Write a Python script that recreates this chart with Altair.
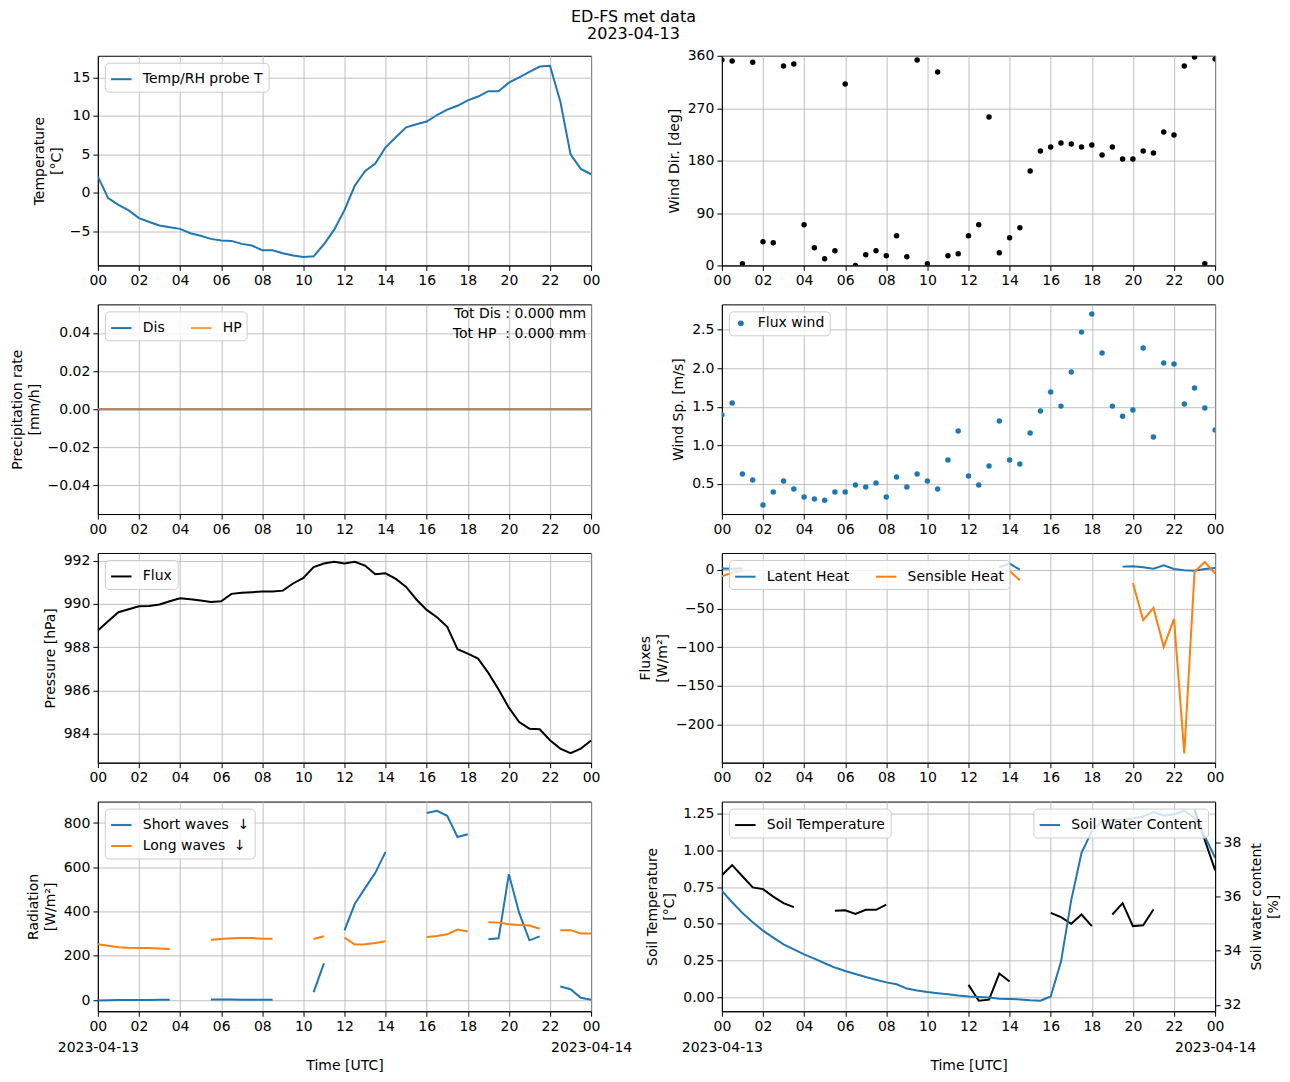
import altair as alt
import pandas as pd

# ---------------- data ----------------
HOURS = [0, 0.5, 1, 1.5, 2, 2.5, 3, 3.5, 4, 4.5, 5, 5.5, 6, 6.5, 7, 7.5, 8, 8.5,
         9, 9.5, 10, 10.5, 11, 11.5, 12, 12.5, 13, 13.5, 14, 14.5, 15, 15.5, 16,
         16.5, 17, 17.5, 18, 18.5, 19, 19.5, 20, 20.5, 21, 21.5, 22, 22.5, 23,
         23.5, 24]
TICK_HOURS = [0, 2, 4, 6, 8, 10, 12, 14, 16, 18, 20, 22, 24]
TICK_LABELS = ["00", "02", "04", "06", "08", "10", "12", "14", "16", "18", "20", "22", "00"]
DATE_LABELS = ["2023-04-13", "2023-04-14"]

TEMP = [2.1, -0.7, -1.57, -2.3, -3.3, -3.8, -4.26, -4.48, -4.7, -5.26, -5.6, -6.0,
        -6.2, -6.26, -6.65, -6.87, -7.48, -7.48, -7.87, -8.17, -8.35, -8.26, -6.7,
        -4.8, -2.27, 0.9, 2.8, 3.8, 5.9, 7.2, 8.5, 8.9, 9.25, 10.1, 10.8, 11.3, 12.0,
        12.5, 13.2, 13.2, 14.3, 15.0, 15.7, 16.4, 16.5, 11.9, 5.0, 3.1, 2.4]

WIND_DIR = [352.6, 350.9, 2.9, 349, 40.6, 38.9, 342.3, 345.7, 69.7, 30.3, 11.4, 25.1,
            311.4, 0, 18.3, 25.1, 16.6, 50.9, 14.9, 352.6, 2.9, 332, 16.6, 20, 50.9,
            69.7, 254.8, 21.7, 47.4, 64.6, 162.3, 196.6, 203.4, 210.3, 208.6, 203.4,
            206.9, 189.7, 203.4, 182.9, 182.9, 196.6, 193.1, 229.1, 224, 342.3, 357.7,
            2.9, 354.3]

DIS = [0.0, 0.0, 0.0, 0.0, 0.0, 0.0, 0.0, 0.0, 0.0, 0.0, 0.0, 0.0, 0.0, 0.0, 0.0, 0.0,
       0.0, 0.0, 0.0, 0.0, 0.0, 0.0, 0.0, 0.0, 0.0, 0.0, 0.0, 0.0, 0.0, 0.0, 0.0, 0.0,
       0.0, 0.0, 0.0, 0.0, 0.0, 0.0, 0.0, 0.0, 0.0, 0.0, 0.0, 0.0, 0.0, 0.0, 0.0, 0.0, 0.0]
HP = [0.0, 0.0, 0.0, 0.0, 0.0, 0.0, 0.0, 0.0, 0.0, 0.0, 0.0, 0.0, 0.0, 0.0, 0.0, 0.0,
      0.0, 0.0, 0.0, 0.0, 0.0, 0.0, 0.0, 0.0, 0.0, 0.0, 0.0, 0.0, 0.0, 0.0, 0.0, 0.0,
      0.0, 0.0, 0.0, 0.0, 0.0, 0.0, 0.0, 0.0, 0.0, 0.0, 0.0, 0.0, 0.0, 0.0, 0.0, 0.0, 0.0]
TOT_NAMES = ["Tot Dis\u00a0", "Tot HP\u00a0\u00a0"]
TOT_VALUES = [0.0, 0.0]

WIND_SP = [1.395, 1.55, 0.63, 0.552, 0.228, 0.396, 0.539, 0.435, 0.33, 0.305, 0.29,
           0.396, 0.396, 0.487, 0.46, 0.513, 0.33, 0.59, 0.46, 0.63, 0.539, 0.435, 0.81,
           1.187, 0.604, 0.487, 0.733, 1.317, 0.81, 0.76, 1.16, 1.447, 1.693, 1.51,
           1.953, 2.47, 2.705, 2.2, 1.51, 1.38, 1.46, 2.264, 1.11, 2.07, 2.056, 1.537,
           1.745, 1.486, 1.2]

PRESSURE = [988.77, 989.2, 989.61, 989.75, 989.89, 989.9, 989.97, 990.12, 990.26,
            990.21, 990.15, 990.09, 990.12, 990.46, 990.51, 990.54, 990.57, 990.57,
            990.61, 990.94, 991.2, 991.7, 991.86, 991.94, 991.86, 991.94, 991.77,
            991.37, 991.41, 991.15, 990.78, 990.2, 989.72, 989.38, 988.94, 987.9,
            987.7, 987.47, 986.81, 986.04, 985.2, 984.54, 984.23, 984.2, 983.7,
            983.31, 983.1, 983.31, 983.68]

LATENT = [1.5, 1.3, 1.5, None, None, None, None, None, None, None, None, None,
          None, None, None, None, None, None, None, None, None, None, None, None,
          None, None, None, 3.4, 7.7, 0.0, None, None, None, None, None, None,
          None, None, None, 3.9, 4.3, 3.0, 1.3, 5.6, 0.86, -0.86, -1.3, 0.86, 2.1]
SENSIBLE = [-8.6, -4.0, -1.0, None, None, None, None, None, None, None, None, None,
            None, None, None, None, None, None, None, None, None, None, None, None,
            None, None, None, None, -1.9, -13.7, None, None, None, None, None, None,
            None, None, None, None, -17.2, -65.3, -49.4, -99.6, -63.6, -237.0, -2.6,
            9.9, -5.2]

SHORT = [-2, -1, 0, 0, 0, 0.5, 1, 1, None, None, None, 3, 2, 2, 1, 1, 1, 1,
         None, None, None, 36, 166, None, 315, 434, 506, 575, 670, None, None, None,
         845, 855, 833, 737, 749, None, 275, 279, 569, 394, 270, 288, None, 61, 49,
         10, 1.5]
LONG = [252, 245, 239, 236, 235, 235, 233, 231, None, None, None, 273, 276, 279,
        280, 280, 277, 277, None, None, None, 276, 288, None, 282, 251, 252, 258,
        266, None, None, None, 285, 290, 297, 319, 310, None, 352, 350, 343, 339,
        337, 322, None, 316, 316, 301, 301]

SOIL_T = [0.831, 0.90, 0.824, 0.748, 0.736, 0.685, 0.64, 0.613, None, None, None,
          0.588, 0.592, 0.567, 0.595, 0.595, 0.63, None, None, None, None, None,
          None, None, 0.083, -0.025, -0.018, 0.16, 0.106, None, None, None, 0.574,
          0.545, 0.5, 0.563, 0.484, None, 0.563, 0.64, 0.484, 0.49, 0.597, None,
          None, None, 1.277, 1.07, 0.865]
SWC = [36.22, 35.8, 35.4, 35.06, 34.75, 34.49, 34.24, 34.05, 33.87, 33.71, 33.54,
       33.38, 33.25, 33.14, 33.03, 32.93, 32.83, 32.76, 32.6, 32.53, 32.47, 32.43,
       32.39, 32.34, 32.31, 32.29, 32.27, 32.22, 32.21, 32.2, 32.17, 32.15, 32.31,
       33.59, 35.88, 37.63, 38.43, 38.8, 38.85, 38.86, 38.9, 38.98, 39.14, 39.01,
       39.06, 39.19, 38.92, 38.24, 37.45]

BLUE = "#1f77b4"
ORANGE = "#ff7f0e"
FONT = "DejaVu Sans"
W, H = 494, 210


def long_df(series):
    rows = []
    for name, vals in series:
        seg, gap = 0, True
        for t, v in zip(HOURS, vals):
            if v is None:
                gap = True
                continue
            if gap:
                seg += 1
                gap = False
            rows.append({"t": t, "v": v, "series": name, "seg": f"{name}-{seg}"})
    return pd.DataFrame(rows)


def x_enc(bottom):
    mapping = "{" + ",".join(f"'{h}':'{l}'" for h, l in zip(TICK_HOURS, TICK_LABELS)) + "}"
    if bottom:
        expr = (f"datum.value == {TICK_HOURS[0]} ? ['{TICK_LABELS[0]}','{DATE_LABELS[0]}'] : "
                f"datum.value == {TICK_HOURS[-1]} ? ['{TICK_LABELS[-1]}','{DATE_LABELS[1]}'] : "
                f"{mapping}[datum.value]")
    else:
        expr = f"{mapping}[datum.value]"
    return alt.X("t:Q", scale=alt.Scale(domain=[0, 24], nice=False, zero=False),
                 axis=alt.Axis(values=TICK_HOURS, labelExpr=expr,
                               title="Time [UTC]" if bottom else None,
                               labelFlush=False, labelOverlap=False, labelBound=False,
                               titlePadding=4, labelLineHeight=21))


def y_enc(domain, values, fmt, title, orient="left", grid=True):
    return alt.Y("v:Q", scale=alt.Scale(domain=domain, nice=False, zero=False),
                 axis=alt.Axis(values=values, format=fmt, title=title, orient=orient,
                               grid=grid, labelOverlap=False, labelFlush=False,
                               titleAngle=270, titleLineHeight=17))


def legend(orient="top-left", columns=1, symbol="stroke"):
    return alt.Legend(title=None, orient=orient, columns=columns, offset=7,
                      fillColor="rgba(255,255,255,0.8)", strokeColor="#cccccc",
                      cornerRadius=4, padding=5, labelFont=FONT, labelFontSize=14,
                      labelColor="black", symbolType=symbol,
                      symbolSize=420 if symbol == "stroke" else 35,
                      symbolStrokeWidth=2 if symbol == "stroke" else 0,
                      symbolOpacity=1, columnPadding=22, rowPadding=2, labelOffset=10)


def line_layer(series, colors, ydom, yvals, yfmt, ytitle, bottom,
               columns=1, orient="top-left", yorient="left", grid=True, opac=None):
    df = long_df(series)
    names = [n for n, _ in series]
    ch = alt.Chart(df).mark_line(strokeWidth=2, clip=True).encode(
        x=x_enc(bottom),
        y=y_enc(ydom, yvals, yfmt, ytitle, yorient, grid),
        color=alt.Color("series:N", scale=alt.Scale(domain=names, range=colors),
                        legend=legend(orient, columns)),
        detail="seg:N",
    )
    if opac is not None:
        ch = ch.encode(opacity=alt.Opacity("series:N", scale=alt.Scale(domain=names, range=opac),
                                           legend=None))
    return ch.properties(width=W, height=H)


# 1 temperature
p_temp = line_layer([("Temp/RH probe T", TEMP)], [BLUE], [-9.45, 17.8],
                    [-5, 0, 5, 10, 15], "d", ["Temperature", "[°C]"], False)

# 2 wind dir
df_wd = pd.DataFrame({"t": HOURS, "v": WIND_DIR})
p_wd = alt.Chart(df_wd).mark_circle(size=30, color="black", opacity=1, clip=True).encode(
    x=x_enc(False),
    y=y_enc([0, 360], [0, 90, 180, 270, 360], "d", "Wind Dir. [deg]"),
).properties(width=W, height=H)

# 3 precipitation
p_pr_lines = line_layer([("Dis", DIS), ("HP", HP)], [BLUE, ORANGE], [-0.055, 0.055],
                        [-0.04, -0.02, 0.0, 0.02, 0.04], ".2f",
                        ["Precipitation rate", "[mm/h]"], False, columns=2, opac=[1, 0.8])
texts = []
for i, (n, v) in enumerate(zip(TOT_NAMES, TOT_VALUES)):
    texts.append(alt.Chart(pd.DataFrame({"lab": [f"{n}: {v:.3f} mm"]})).mark_text(
        align="right", baseline="middle", font=FONT, fontSize=14, color="black").encode(
        x=alt.value(W - 5), y=alt.value(10 + 20 * i), text="lab:N"))
p_pr = alt.layer(p_pr_lines, *texts)

# 4 wind speed
df_ws = pd.DataFrame({"t": HOURS, "v": WIND_SP, "series": "Flux wind"})
p_ws = alt.Chart(df_ws).mark_circle(size=30, opacity=1, clip=True).encode(
    x=x_enc(False),
    y=y_enc([0.11, 2.83], [0.5, 1.0, 1.5, 2.0, 2.5], ".1f", "Wind Sp. [m/s]"),
    color=alt.Color("series:N", scale=alt.Scale(domain=["Flux wind"], range=[BLUE]),
                    legend=legend(symbol="circle")),
).properties(width=W, height=H)

# 5 pressure
p_pres = line_layer([("Flux", PRESSURE)], ["black"], [982.66, 992.35],
                    [984, 986, 988, 990, 992], "d", "Pressure [hPa]", False)

# 6 fluxes
p_flux = line_layer([("Latent Heat", LATENT), ("Sensible Heat", SENSIBLE)], [BLUE, ORANGE],
                    [-249, 21.5], [-200, -150, -100, -50, 0], "d", ["Fluxes", "[W/m²]"],
                    False, columns=2)

# 7 radiation
p_rad = line_layer([("Short waves\u00a0 \u2193", SHORT), ("Long waves\u00a0 \u2193", LONG)],
                   [BLUE, ORANGE], [-50.6, 897], [0, 200, 400, 600, 800], "d",
                   ["Radiation", "[W/m²]"], True)

# 8 soil
p_st = line_layer([("Soil Temperature", SOIL_T)], ["black"], [-0.097, 1.333],
                  [0.0, 0.25, 0.5, 0.75, 1.0, 1.25], ".2f", ["Soil Temperature", "[°C]"], True)
p_swc = line_layer([("Soil Water Content", SWC)], [BLUE], [31.76, 39.53],
                   [32, 34, 36, 38], "d", ["Soil water content", "[%]"], True,
                   orient="top-right", yorient="right", grid=False)
p_soil = alt.layer(p_st, p_swc).resolve_scale(y="independent", color="independent")

chart = alt.concat(p_temp, p_wd, p_pr, p_ws, p_pres, p_flux, p_rad, p_soil,
                   columns=2, spacing={"row": 39, "column": 131}, bounds="flush",
                   title=alt.TitleParams(text=["ED-FS met data", "2023-04-13"],
                                         anchor="middle", fontSize=16, fontWeight="normal",
                                         font=FONT, color="black", lineHeight=17,
                                         offset=6, dx=-12)
                   ).resolve_scale(color="independent", opacity="independent").properties(
    background="white", padding={"left": 1, "top": 0, "right": 0, "bottom": 0})

chart = chart.configure_view(stroke="black", strokeWidth=1).configure_axis(
    labelFont=FONT, labelFontSize=14, labelColor="black", titleFont=FONT,
    titleFontSize=14, titleFontWeight="normal", titleColor="black",
    tickColor="black", tickSize=5, domainColor="black", gridColor="#b0b0b0",
    gridWidth=0.8, labelPadding=3, titlePadding=6,
)

chart.save("out.html", embed_options={"renderer": "svg", "actions": False})
